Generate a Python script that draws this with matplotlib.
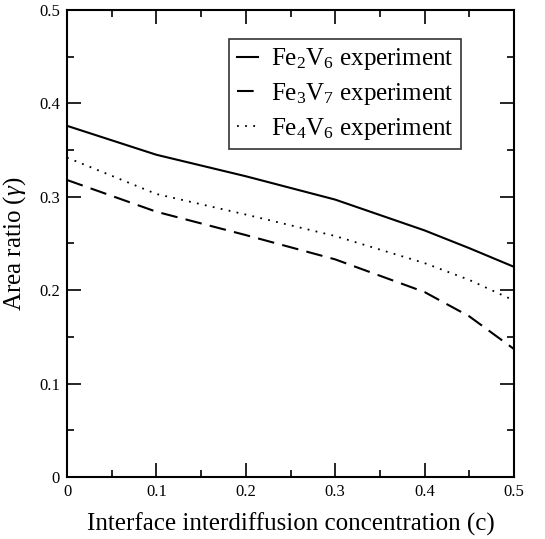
import matplotlib
matplotlib.use("Agg")
import matplotlib.pyplot as plt
from matplotlib.ticker import MultipleLocator

plt.rcParams.update({
    "font.family": "serif",
    "font.serif": ["Liberation Serif", "DejaVu Serif"],
    "mathtext.fontset": "custom",
    "mathtext.rm": "Liberation Serif",
    "mathtext.it": "Liberation Serif:italic",
})

# ── Data ──────────────────────────────────────────────────────────────────
conc = [0.0, 0.1, 0.2, 0.3, 0.4, 0.45, 0.5]
fe2v6 = [0.376, 0.345, 0.322, 0.297, 0.264, 0.245, 0.225]
fe3v7 = [0.318, 0.284, 0.259, 0.233, 0.198, 0.172, 0.137]
fe4v6 = [0.342, 0.303, 0.281, 0.258, 0.229, 0.211, 0.189]

labels = [r"Fe$_2$V$_6$ experiment", r"Fe$_3$V$_7$ experiment", r"Fe$_4$V$_6$ experiment"]

fig = plt.figure(figsize=(5.45, 5.39), dpi=100)
ax = fig.add_axes([67 / 545, 1 - 477 / 539, 447 / 545, 467 / 539])

ax.plot(conc, fe2v6, "-", color="black", lw=1.5, label=labels[0])
ax.plot(conc, fe3v7, color="black", lw=1.5, dashes=(8, 4), label=labels[1])
ax.plot(conc, fe4v6, color="black", lw=1.3, dashes=(1, 3.5), label=labels[2])

ax.set_xlim(0, 0.5)
ax.set_ylim(0, 0.5)
ax.xaxis.set_major_locator(MultipleLocator(0.1))
ax.xaxis.set_minor_locator(MultipleLocator(0.05))
ax.yaxis.set_major_locator(MultipleLocator(0.1))
ax.yaxis.set_minor_locator(MultipleLocator(0.05))
ax.xaxis.set_major_formatter(plt.FuncFormatter(lambda v, p: "0" if v == 0 else f"{v:.1f}"))
ax.yaxis.set_major_formatter(plt.FuncFormatter(lambda v, p: "0" if v == 0 else f"{v:.1f}"))
ax.tick_params(which="both", direction="in", top=True, right=True, labelsize=12, width=1.2)
ax.tick_params(which="major", length=10, pad=5)
ax.tick_params(which="minor", length=5)
for s in ax.spines.values():
    s.set_linewidth(1.5)

ax.set_xlabel("Interface interdiffusion concentration (c)", fontsize=18, labelpad=9)
ax.set_ylabel(r"Area ratio ($\gamma$)", fontsize=18, labelpad=8)

leg = ax.legend(loc="upper right", bbox_to_anchor=(0.881, 0.938), fontsize=18,
                frameon=True, fancybox=False, edgecolor="black", handlelength=0.85,
                handletextpad=0.5, borderpad=0.3, labelspacing=0.35, borderaxespad=0)
leg.get_frame().set_linewidth(1.2)

fig.savefig("out.png", dpi=100)
